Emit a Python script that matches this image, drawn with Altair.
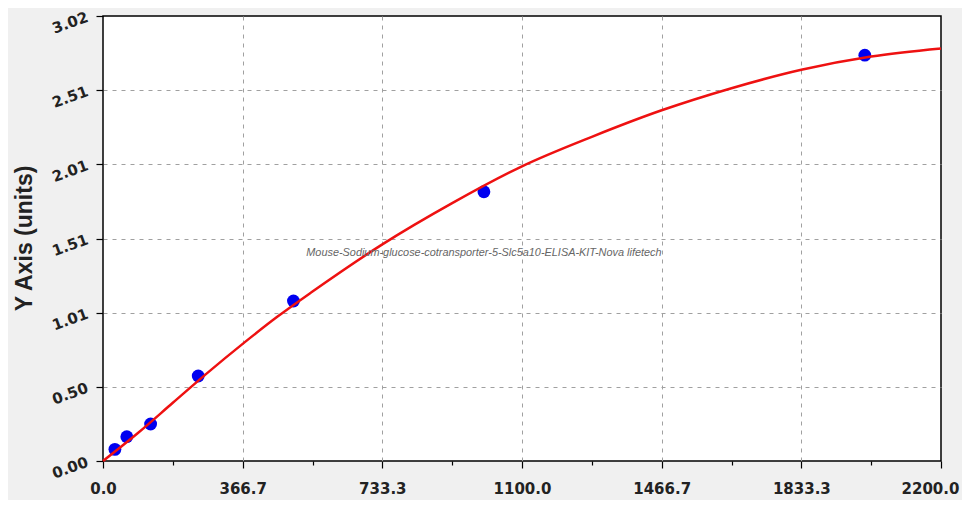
import altair as alt
import pandas as pd

# Standard points (concentration, OD)
std_x = [31.25, 62.5, 125, 250, 500, 1000, 2000]
std_y = [0.079, 0.165, 0.251, 0.577, 1.086, 1.827, 2.754]

# Fitted curve
curve_x = [0, 91.7, 183.3, 275, 366.7, 458.3, 550, 733.3, 916.7, 1100, 1283.3, 1466.7, 1650, 1833.3, 2016.7, 2200]
curve_y = [0.0, 0.19, 0.395, 0.60, 0.795, 0.98, 1.15, 1.47, 1.75, 2.00, 2.20, 2.38, 2.53, 2.655, 2.745, 2.80]

y_labels = ["0.00", "0.50", "1.01", "1.51", "2.01", "2.51", "3.02"]
x_max = 2200
y_max = 3.02

note_text = ["Mouse-Sodium-glucose-cotransporter-5-Slc5a10-ELISA-KIT-Nova lifetech"]
note_x = [1000]
note_y = [1.41]

pts = pd.DataFrame({"x": std_x, "y": std_y})
crv = pd.DataFrame({"x": curve_x, "y": curve_y})
note = pd.DataFrame({"x": note_x, "y": note_y, "t": note_text})

x_ticks = [x_max * i / 24 for i in range(25)]
y_ticks = [y_max * i / 24 for i in range(25)]

xs = x_max / 6
ys = y_max / 6
x_major = f"abs(datum.value/{xs} - round(datum.value/{xs})) < 0.001"
y_major = f"abs(datum.value/{ys} - round(datum.value/{ys})) < 0.001"
y_arr = "[" + ",".join(f"'{s}'" for s in y_labels) + "]"

x_scale = alt.Scale(domain=[0, x_max], nice=False, zero=False)
y_scale = alt.Scale(domain=[0, y_max], nice=False, zero=False)

x_axis = alt.Axis(
    values=x_ticks,
    labelExpr=f"{x_major} ? format(datum.value, '.1f') : ''",
    title=None,
    grid=True,
    gridColor="#a0a0a0",
    gridDash=[4, 5],
    gridWidth=1,
    gridOpacity={"condition": {"test": f"{x_major} && datum.value > 1 && datum.value < {x_max - 1}", "value": 1}, "value": 0},
    domain=False,
    ticks=True,
    tickColor="black",
    tickSize={"condition": {"test": x_major, "value": 7}, "value": 4},
    tickWidth=1.2,
    labelFont="DejaVu Sans",
    labelFontWeight="bold",
    labelFontSize=15,
    labelColor="#222222",
    labelPadding=13,
    labelOffset={"condition": {"test": f"datum.value > {x_max - 1}", "value": -11}, "value": 0},
    labelFlush=False,
    labelOverlap=False,
)

y_axis = alt.Axis(
    values=y_ticks,
    labelExpr=f"{y_major} ? {y_arr}[round(datum.value/{ys})] : ''",
    title="Y Axis (units)",
    titleFont="Liberation Sans",
    titleFontSize=23,
    titleFontWeight="bold",
    titleColor="#222222",
    titleX=-79,
    titleY=222,
    titleAngle=270,
    titleAlign="center",
    titleBaseline="middle",
    grid=True,
    gridColor="#a0a0a0",
    gridDash=[4, 5],
    gridWidth=1,
    gridOpacity={"condition": {"test": f"{y_major} && datum.value > 0.001 && datum.value < {y_max - 0.001}", "value": 1}, "value": 0},
    domain=False,
    ticks=True,
    tickColor="black",
    tickSize={"condition": {"test": y_major, "value": 7}, "value": 4},
    tickWidth=1.2,
    labelFont="DejaVu Sans",
    labelFontWeight="bold",
    labelFontSize=15,
    labelColor="#222222",
    labelAngle=340,
    labelPadding=9,
    labelFlush=False,
    labelOverlap=False,
)

base_x = alt.X("x:Q", scale=x_scale, axis=x_axis)
base_y = alt.Y("y:Q", scale=y_scale, axis=y_axis)

points = alt.Chart(pts).mark_circle(size=165, color="#0000f0", opacity=1).encode(x=base_x, y=base_y)

line = alt.Chart(crv).mark_line(color="#ee1111", strokeWidth=2.5, interpolate="monotone").encode(
    x=alt.X("x:Q", scale=x_scale),
    y=alt.Y("y:Q", scale=y_scale),
)

label = alt.Chart(note).mark_text(
    font="Liberation Sans", fontStyle="italic", fontSize=10.9, color="#666666", align="center", baseline="middle"
).encode(
    x=alt.X("x:Q", scale=x_scale),
    y=alt.Y("y:Q", scale=y_scale),
    text="t:N",
)

chart = (
    alt.layer(points, line, label)
    .properties(
        width=838,
        height=445,
        autosize=alt.AutoSizeParams(type="none"),
        padding={"left": 95, "top": 8, "right": 21, "bottom": 39},
        background="#f0f0f0",
    )
    .configure_view(fill="white", stroke="black", strokeWidth=1.5)
)

chart.save("out.html", embed_options={"renderer": "svg", "actions": False})
